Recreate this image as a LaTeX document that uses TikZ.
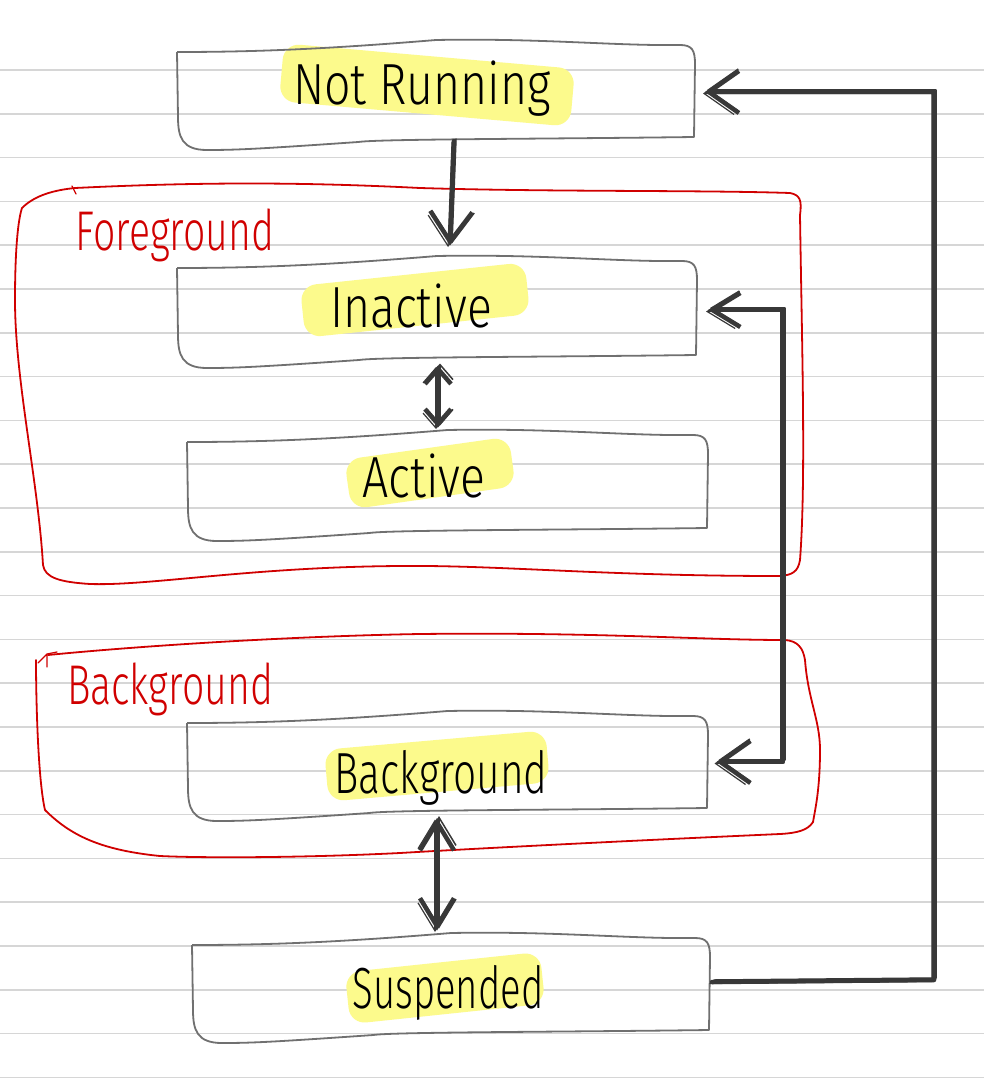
\documentclass[tikz,border=0pt]{standalone}
\usepackage{fontspec}
\newfontfamily\hand[FakeStretch=0.8]{Fira Sans Light}
\newfontfamily\handb[FakeStretch=0.7]{Fira Sans Light}
\newfontfamily\handc[FakeStretch=0.66]{Fira Sans Light}
\usetikzlibrary{arrows.meta,calc}
\definecolor{pen}{HTML}{383838}
\definecolor{boxgray}{HTML}{707070}
\definecolor{rule}{HTML}{D6D6D6}
\definecolor{hl}{RGB}{252,250,140}
\definecolor{redpen}{HTML}{D00000}
\newcommand\sketchbox[4]{%
 \draw[boxline] (#1,#2) .. controls ({#1+80},{#2}) and ({#1+150},{#2-3}) .. ({#1+0.5*(#3-#1)},{#2-12})
  .. controls ({#1+0.7*(#3-#1)},{#2-14}) and ({#3-80},{#2-6}) .. ({#3-15},{#2-7})
  .. controls ({#3-3},{#2-7}) and ({#3},{#2-2}) .. ({#3},{#2+12})
  -- ({#3-1},{#4})
  .. controls ({#3-150},{#4+2}) and ({#1+200},{#4+2}) .. ({#1+0.35*(#3-#1)},{#4+5})
  .. controls ({#1+80},{#4+12}) and ({#1+60},{#4+13}) .. ({#1+30},{#4+13})
  .. controls ({#1+5},{#4+13}) and ({#1+1},{#4}) .. ({#1+1},{#4-20})
  -- ({#1},{#2});}
\newcommand\hilite[5]{%
 \fill[hl, rounded corners=16pt, rotate around={#5:(#1,#2)}] ({#1-#3/2},{#2-#4/2}) rectangle ({#1+#3/2},{#2+#4/2});}
\tikzset{
 area/.style={inner sep=0pt, outer sep=0pt},
 boxline/.style={draw=boxgray, line width=1.8pt, line join=round},
 grp/.style={draw=redpen, line width=1.8pt, line join=round, line cap=round},
 statetext/.style={font=\hand\fontsize{58}{58}\selectfont, text=black, inner sep=0pt, anchor=base},
 grptext/.style={font=\handb\fontsize{56}{56}\selectfont, text=redpen, inner sep=0pt, anchor=base},
 conn/.style={draw=pen, line width=4.5pt, line cap=round, line join=round,
   postaction={draw=pen, line width=1.5pt, transform canvas={shift={(2pt,2pt)}}},
   postaction={draw=pen, line width=1.2pt, transform canvas={shift={(-2pt,-1.5pt)}}}},
 bigbarb/.tip={Straight Barb[length=30pt,width=42pt]},
 midbarb/.tip={Straight Barb[length=28pt,width=34pt]},
 smallbarb/.tip={Straight Barb[length=15pt,width=26pt]},
}
\begin{document}
\begin{tikzpicture}[x=1pt,y=-1pt]
\useasboundingbox (0,0) rectangle (984,1086);
\fill[white] (0,0) rectangle (984,1086);
% ruled paper
\foreach \k in {0,...,23} {\draw[rule, line width=1.6pt] (0,{70+43.8*\k}) -- (984,{70+43.8*\k});}
% highlights
\hilite{427}{85}{292}{58}{-5}
\hilite{415}{300}{226}{52}{6}
\hilite{430}{473}{166}{50}{8}
\hilite{437}{766}{222}{52}{5}
\hilite{445}{988}{196}{52}{6}
% state boxes
\sketchbox{177}{52}{695}{137}
\sketchbox{177}{268}{697}{355}
\sketchbox{187}{442}{708}{528}
\sketchbox{187}{723}{708}{808}
\sketchbox{192}{945}{710}{1030}
\node[area, minimum width=518pt, minimum height=96pt] (nr) at (436,93) {};
\node[area, minimum width=520pt, minimum height=95pt] (ina) at (437,313) {};
\node[area, minimum width=521pt, minimum height=93pt] (act) at (447,488) {};
\node[area, minimum width=521pt, minimum height=92pt] (bg) at (447,768) {};
\node[area, minimum width=518pt, minimum height=95pt] (sus) at (451,990) {};
\node[statetext] (nrt) at (422,105) {Not Running};
\node[statetext] (inat) at (411,327) {Inactive};
\node[statetext] (actt) at (424,497) {Active};
\node[statetext, font=\handb\fontsize{58}{58}\selectfont] (bgt) at (441,793) {Background};
\node[statetext, font=\handc\fontsize{58}{58}\selectfont] (sust) at (448,1008) {Suspended};
% group outlines
\draw[grp] (22,208) .. controls (35,195) and (55,190) .. (75,188) .. controls (200,182) and (300,182) .. (420,188)
 .. controls (550,192) and (700,190) .. (790,193) .. controls (800,195) and (802,200) .. (800,215)
 .. controls (802,350) and (806,480) .. (800,560) .. controls (798,572) and (792,575) .. (780,576)
 .. controls (600,576) and (500,565) .. (400,566) .. controls (250,567) and (150,586) .. (90,584)
 .. controls (60,582) and (45,578) .. (43,565) .. controls (38,480) and (15,380) .. (15,300)
 .. controls (15,250) and (18,220) .. (22,208);
\draw[grp, line width=1.2pt] (72,186) -- (76,194);
\node[grptext] (fgt) at (175,250) {Foreground};
\draw[grp] (48,655) .. controls (150,645) and (300,636) .. (420,634) .. controls (600,632) and (700,640) .. (785,640)
 .. controls (798,641) and (803,648) .. (805,660) .. controls (808,700) and (820,720) .. (820,750)
 .. controls (820,790) and (815,810) .. (813,822) .. controls (808,830) and (798,833) .. (780,834)
 .. controls (600,842) and (450,850) .. (400,853) .. controls (300,858) and (200,858) .. (160,856)
 .. controls (100,850) and (70,835) .. (45,810) .. controls (38,780) and (36,700) .. (36,660);
\draw[grp, line width=1.2pt] (38,663) -- (47,654) -- (57,652) (47,654) -- (47,667);
\node[grptext] (bggt) at (170,704) {Background};
% connectors
\coordinate (c1) at (934,980);
\coordinate (c2) at (783,500);
\draw[conn, -{bigbarb}] ($(nr.south)+(18,0)$) -- ($(ina.north)+(13,-20)$);
\draw[conn, {smallbarb}-{smallbarb}] ($(ina.south)+(1,5)$) -- ($(act.north)+(-9,-14)$);
\draw[conn, {midbarb}-{midbarb}] ($(bg.south)+(-10,4)$) -- ($(sus.north)+(-14,-12)$);
\draw[conn, -{bigbarb}] ($(sus.east)+(2,-8)$) -- (c1) |- ($(nr.east)+(10,-1)$);
\draw[conn, {midbarb}-{bigbarb}] ($(ina.east)+(11,-3)$) -| (c2) |- ($(bg.east)+(9,-6)$);
\end{tikzpicture}
\end{document}
